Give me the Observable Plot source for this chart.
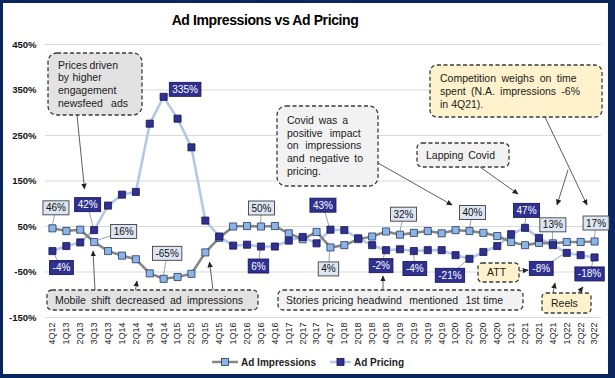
<!DOCTYPE html>
<html>
<head>
<meta charset="utf-8">
<script src="https://cdn.jsdelivr.net/npm/d3@7"></script>
<script src="https://cdn.jsdelivr.net/npm/@observablehq/plot@0.6"></script>
<style>
html,body{margin:0;padding:0;background:#0a2660;}
#frame{position:relative;width:615px;height:378px;background:#0a2660;overflow:hidden;font-family:"Liberation Sans",Arial,sans-serif;}
#panel{position:absolute;left:3px;top:3px;width:605px;height:371px;background:#fff;}
#title{position:absolute;top:12px;left:0;width:530px;text-align:center;font-weight:bold;font-size:14px;line-height:16px;letter-spacing:-0.4px;color:#000;}
#chart{position:absolute;left:0;top:0;}
#legend{position:absolute;top:356px;left:0;width:615px;height:12px;}
.li{position:absolute;top:0;height:12px;display:flex;align-items:center;font-weight:bold;font-size:10px;color:#222;}
.li svg{margin-right:3px;}
#chart svg g[aria-label^="y-axis"] text{font-weight:bold;font-size:9.5px;fill:#111;}
#chart svg g[aria-label^="x-axis"] text{font-size:9px;fill:#222;}
</style>
</head>
<body>
<div id="frame">
  <div id="panel"></div>
  <div id="chart"></div>
  <div id="title"></div>
  <div id="legend"></div>
</div>
<script>
// ---------- data ----------
const chartTitle = "Ad Impressions vs Ad Pricing";
const seriesNames = ["Ad Impressions", "Ad Pricing"];
const quarters = ["4Q12","1Q13","2Q13","3Q13","4Q13","1Q14","2Q14","3Q14","4Q14","1Q15","2Q15","3Q15","4Q15","1Q16","2Q16","3Q16","4Q16","1Q17","2Q17","3Q17","4Q17","1Q18","2Q18","3Q18","4Q18","1Q19","2Q19","3Q19","4Q19","1Q20","2Q20","3Q20","4Q20","1Q21","2Q21","3Q21","4Q21","1Q22","2Q22","3Q22"];
const impressions = [46,40,43,16,-4,-14,-22,-53,-65,-61,-54,-7,25,50,51,50,51,35,22,38,4,9,22,28,39,32,36,40,35,42,40,36,29,16,9,14,13,16,16,17];
const pricing = [-4,7,15,42,96,120,126,276,335,287,224,63,28,8,10,6,6,19,27,13,43,42,24,9,-2,0,-4,-2,-2,-13,-21,-6,7,33,47,25,9,-8,-13,-18];
const yTicks = [-150,-50,50,150,250,350,450];
const impLabelQuarters = ["4Q12","3Q13","4Q14","3Q16","4Q17","1Q19","2Q20","4Q21","3Q22"];
const priceLabelQuarters = ["4Q12","3Q13","4Q14","3Q16","4Q17","4Q18","2Q19","2Q20","2Q21","1Q22","3Q22"];
const noteTexts = [
  ["Prices driven","by higher","engagement","newsfeed  ads"],
  ["Mobile shift decreased ad impressions"],
  ["Covid was a","positive impact","on impressions","and negative to","pricing."],
  ["Lapping Covid"],
  ["Competition weighs on time","spent (N.A. impressions -6%","in 4Q21)."],
  ["Stories pricing headwind  mentioned  1st time"],
  ["ATT"],
  ["Reels"]
];

// ---------- layout (pixel offsets, styles) ----------
const impLabelOffsets = [[4,-20],[30,-10],[4,-25],[1,-18],[-1.5,22],[4,-20],[3.5,-18],[0.5,-18],[2,-18]];
const priceLabelOffsets = [[9.5,17],[-6,-25],[22,-7],[-2,20],[-7,-24],[-4.5,16],[1.5,18],[-19,17],[2,-17],[-25,16],[-4.5,17]];
const noteBoxes = [
  {x:48,y:53,w:94,h:62,fill:"#e2e2e2",rx:9,tx:58,ty:65,lh:12.7,tw:[60,43.7,58.3,70]},
  {x:47,y:290,w:211,h:20,fill:"#e2e2e2",rx:5,tx:55,ty:300,lh:12,tw:[188]},
  {x:277,y:106,w:101,h:80,fill:"#f2f2f2",rx:9,tx:287,ty:120,lh:12.9,tw:[61,73.7,74.3,76,34.3]},
  {x:417,y:143,w:92,h:24,fill:"#f2f2f2",rx:5,tx:426,ty:155,lh:12,tw:[69]},
  {x:430,y:65,w:172,h:52,fill:"#fff2cc",rx:7,tx:440,ty:78.3,lh:12.9,tw:[136.7,140,43.3]},
  {x:278,y:290,w:245,h:20,fill:"#f2f2f2",rx:5,tx:286,ty:300,lh:12,tw:[217]},
  {x:478,y:263,w:41,h:19,fill:"#fff2cc",rx:4,tx:487,ty:272.5,lh:12,tw:[19]},
  {x:542,y:293,w:49,h:20,fill:"#fff2cc",rx:4,tx:551,ty:303.3,lh:12,tw:[26]}
];
const arrowSegs = [
  [77,115,84.5,189],[95,290,93,251],[135.5,290,137,281],[213,290,209.5,262],
  [378,163,452,205],[480,167,518,194],[545,117,587,205],[568,170,557,205],
  [383,290,383,276],[519,271,528,270],[553,293,555,283],[578,293,583,287]
];

const impColor = {line:"#878787", fill:"#8db4e2", stroke:"#1f3864"};
const priceColor = {line:"#b4c7e7", fill:"#2e3192", stroke:"#16164f"};

document.getElementById("title").textContent = chartTitle;

const rows = quarters.map((q,i)=>({q, imp:impressions[i], price:pricing[i]}));

const plot = Plot.plot({
  width:615, height:350,
  marginTop:44, marginBottom:33, marginLeft:45, marginRight:14,
  style:{background:"transparent", fontFamily:"Liberation Sans, Arial, sans-serif", fontSize:"9px", color:"#222", overflow:"visible"},
  x:{type:"point", domain:quarters, padding:0.5, tickRotate:-90, tickSize:0, tickPadding:5, label:null},
  y:{domain:[-150,450], ticks:yTicks, tickFormat:d=>d+"%", tickSize:0, tickPadding:9, label:null},
  marks:[
    Plot.ruleY(yTicks,{stroke:"#d9d9d9", strokeWidth:1}),
    Plot.line(rows,{x:"q", y:"price", stroke:priceColor.line, strokeWidth:2.6}),
    Plot.line(rows,{x:"q", y:"imp", stroke:impColor.line, strokeWidth:2.6}),
    Plot.dot(rows,{x:"q", y:"imp", symbol:"square", r:4, fill:impColor.fill, stroke:impColor.stroke, strokeWidth:0.8}),
    Plot.dot(rows,{x:"q", y:"price", symbol:"square", r:4, fill:priceColor.fill, stroke:priceColor.stroke, strokeWidth:0.8})
  ]
});
document.getElementById("chart").append(plot);

const svg = d3.select(plot);
const X = plot.scale("x"), Y = plot.scale("y");

// arrow marker
const defs = svg.append("defs");
defs.append("marker").attr("id","ah").attr("viewBox","0 0 10 10").attr("refX",9).attr("refY",5)
  .attr("markerWidth",6).attr("markerHeight",6).attr("markerUnits","userSpaceOnUse").attr("orient","auto")
  .append("path").attr("d","M0,0.5L10,5L0,9.5z").attr("fill","#222");

// data labels
function labelSpecs(qs, offs, values, isImp){
  return qs.map((q,k)=>{
    const v = values[quarters.indexOf(q)];
    const px = X.apply(q), py = Y.apply(v);
    return {px, py, cx:px+offs[k][0], cy:py+offs[k][1], text:v+"%", isImp};
  });
}
const specs = labelSpecs(impLabelQuarters, impLabelOffsets, impressions, true)
  .concat(labelSpecs(priceLabelQuarters, priceLabelOffsets, pricing, false));

// leader lines below dots
const firstDot = plot.querySelector('g[aria-label="dot"]');
const leaders = d3.select(plot.insertBefore(document.createElementNS("http://www.w3.org/2000/svg","g"), firstDot));
leaders.selectAll("line").data(specs).join("line")
  .attr("x1",d=>d.px).attr("y1",d=>d.py).attr("x2",d=>d.cx).attr("y2",d=>d.cy)
  .attr("stroke","#8a8a8a").attr("stroke-width",0.8);

const lab = svg.append("g").attr("font-family","Liberation Sans, Arial, sans-serif").attr("font-size",10);
specs.forEach(d=>{
  const g = lab.append("g");
  const r = g.append("rect");
  const t = g.append("text").attr("x",d.cx).attr("y",d.cy).attr("dy","0.35em").attr("text-anchor","middle")
    .attr("fill", d.isImp ? "#111" : "#fff").text(d.text);
  const w = t.node().getComputedTextLength() + 6;
  r.attr("x",d.cx-w/2).attr("y",d.cy-7).attr("width",w).attr("height",14)
   .attr("fill", d.isImp ? "#dce6f2" : priceColor.fill)
   .attr("stroke", d.isImp ? "#3f3f3f" : "#1a1a55").attr("stroke-width",0.9);
});

// annotation boxes
const notes = svg.append("g").attr("font-family","Liberation Sans, Arial, sans-serif").attr("font-size",10.5).attr("text-anchor","start");
noteBoxes.forEach((b,i)=>{
  notes.append("rect").attr("x",b.x).attr("y",b.y).attr("width",b.w).attr("height",b.h).attr("rx",b.rx)
    .attr("fill",b.fill).attr("stroke","#3a3a3a").attr("stroke-width",1.3).attr("stroke-dasharray","4,2.5");
  noteTexts[i].forEach((line,j)=>{
    const t = notes.append("text").attr("x",b.tx).attr("y",b.ty+j*b.lh).attr("dy","0.35em")
      .attr("text-anchor","start").attr("fill","#1a1a1a").style("white-space","pre").text(line);
    const spaces = (line.match(/ /g)||[]).length;
    const len = t.node().getComputedTextLength();
    if (spaces>0 && b.tw[j]) {
      const ws = (b.tw[j]-len)/spaces;
      t.attr("word-spacing", Math.max(-1, Math.min(6, ws)));
    }
  });
});

// arrows
svg.append("g").selectAll("line").data(arrowSegs).join("line")
  .attr("x1",d=>d[0]).attr("y1",d=>d[1]).attr("x2",d=>d[2]).attr("y2",d=>d[3])
  .attr("stroke","#333").attr("stroke-width",0.8).attr("marker-end","url(#ah)");

// legend
const legend = d3.select("#legend");
const legendItems = [
  {name:seriesNames[0], c:impColor, left:212, sw:26},
  {name:seriesNames[1], c:priceColor, left:330, sw:21}
];
legendItems.forEach(it=>{
  const s = legend.append("span").attr("class","li").style("left",it.left+"px");
  const sv = s.append("svg").attr("width",it.sw).attr("height",10);
  sv.append("line").attr("x1",0).attr("x2",it.sw).attr("y1",5).attr("y2",5).attr("stroke",it.c.line).attr("stroke-width",2.5);
  sv.append("rect").attr("x",it.sw/2-3.5).attr("y",1.5).attr("width",7).attr("height",7)
    .attr("fill",it.c.fill).attr("stroke",it.c.stroke).attr("stroke-width",0.8);
  s.append("span").text(it.name);
});
</script>
</body>
</html>
